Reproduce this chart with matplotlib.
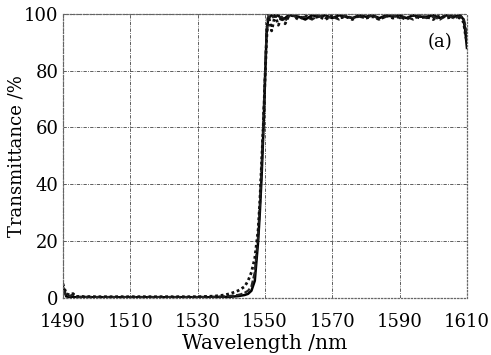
import matplotlib
matplotlib.use('Agg')
import matplotlib.pyplot as plt

# wavelength samples (nm) and three measured transmittance curves (%)
wavelength = [1490, 1491, 1492, 1493, 1494, 1500, 1510, 1520, 1530, 1535,
              1538, 1540, 1542, 1543, 1544, 1545, 1546, 1547, 1548, 1548.5,
              1549, 1549.5, 1550, 1550.5, 1551, 1552, 1553, 1554, 1555, 1556,
              1557, 1558, 1560, 1562, 1564, 1566, 1568, 1570, 1572, 1574,
              1576, 1578, 1580, 1582, 1584, 1586, 1588, 1590, 1592, 1594,
              1596, 1598, 1600, 1602, 1604, 1606, 1608, 1609, 1609.5, 1610]

trans_solid = [4.0, 0.5, 0.3, 0.3, 0.2, 0.2, 0.2, 0.2, 0.2, 0.2,
               0.3, 0.4, 0.6, 0.8, 1.0, 1.4, 2.5, 6.0, 20, 30,
               42, 57, 75, 93, 98.5, 99.5, 99, 99.5, 98, 98.5,
               99.5, 99.5, 99, 98, 99.5, 99, 99.5, 98.5, 99.5, 99,
               98.5, 99.5, 99, 99.5, 98.5, 99.5, 99, 99.5, 98.5, 99.5,
               99, 99, 99.5, 98.5, 99.5, 99, 99.5, 98, 94, 88]

trans_dashed = [3.0, 1.0, 0.6, 1.2, 0.4, 0.3, 0.3, 0.3, 0.3, 0.4,
                0.5, 0.7, 1.0, 1.3, 1.8, 2.5, 4.0, 9.0, 22, 33,
                46, 61, 78, 94, 99, 98.5, 99.5, 98.5, 99, 97.5,
                99, 99.5, 98.5, 99, 98, 99.5, 98.5, 99, 98, 99.5,
                98.5, 99, 98.5, 99.5, 98, 99, 99.5, 98.5, 99, 98,
                99.5, 98.5, 99, 98, 99.5, 98.5, 99, 98.5, 96, 92]

trans_dotted = [5.0, 1.5, 1.0, 1.5, 0.5, 0.4, 0.4, 0.4, 0.4, 0.6,
                1.0, 1.6, 2.5, 3.2, 4.0, 6.0, 9.0, 14, 24, 34,
                47, 60, 76, 91, 100, 94, 99.5, 96, 99, 96.5,
                99, 99.5, 98, 99.5, 98.5, 99, 98, 99.5, 98.5, 99,
                98, 99.5, 98.5, 99, 98, 99.5, 98.5, 99, 98, 99.5,
                98.5, 99, 98, 99.5, 98.5, 99, 98.5, 97, 93, 90]

x_ticks = [1490, 1510, 1530, 1550, 1570, 1590, 1610]
y_ticks = [0, 20, 40, 60, 80, 100]

plt.rcParams['font.family'] = ['DejaVu Serif']

fig = plt.figure(figsize=(4.91, 3.55), dpi=100)
ax = fig.add_axes([0.128, 0.161, 0.823, 0.800])

ax.plot(wavelength, trans_solid, color='black', lw=1.8, ls='-')
ax.plot(wavelength, trans_dashed, color='#222222', lw=1.6, ls=(0, (3, 1)))
ax.plot(wavelength, trans_dotted, color='#111111', lw=2.0, ls=(0, (1, 1)))

ax.set_xlim(1490, 1610)
ax.set_ylim(0, 100)
ax.set_xticks(x_ticks)
ax.set_yticks(y_ticks)
ax.tick_params(length=0, labelsize=13)
ax.tick_params(axis='x', pad=11)
ax.tick_params(axis='y', pad=3)
ax.grid(True, color='#444444', lw=0.6, ls=(0, (4, 1.5, 1, 1.5)))
for s in ax.spines.values():
    s.set_color('#666666')
    s.set_linewidth(0.9)
    s.set_linestyle(':')

ax.set_xlabel('Wavelength /nm', fontsize=14.5, labelpad=2)
ax.set_ylabel('Transmittance /%', fontsize=13, labelpad=-1)
ax.text(1602, 90, '(a)', fontsize=13, ha='center', va='center')

fig.savefig('out.png', dpi=100)
